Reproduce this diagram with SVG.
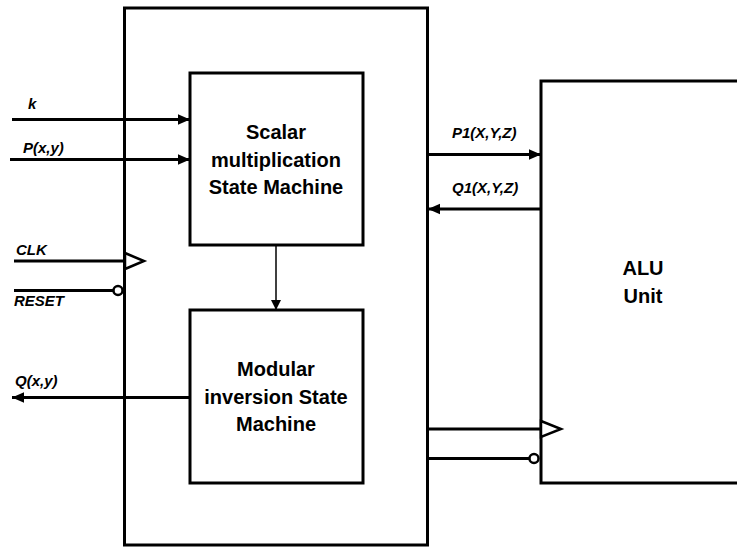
<svg xmlns="http://www.w3.org/2000/svg" width="737" height="547" viewBox="0 0 737 547">
<defs>
<marker id="ah" markerWidth="10" markerHeight="10" refX="10" refY="5" orient="auto" markerUnits="userSpaceOnUse">
<path d="M0,0 L10,5 L0,10 Z" fill="#000"/>
</marker>
<marker id="ahs" markerWidth="12" markerHeight="12" refX="14" refY="6" orient="auto" markerUnits="userSpaceOnUse" viewBox="0 0 14 12">
<path d="M0,0 L14,6 L0,12 Z" fill="#000"/>
</marker>
<style>
.box{fill:#fff;stroke:#000;stroke-width:3}
.ln{stroke:#000;stroke-width:3;fill:none}
.thin{stroke:#000;stroke-width:1.5;fill:none}
.t{font-family:"Liberation Sans",Arial,sans-serif;font-weight:bold;font-size:20px;text-anchor:middle;fill:#000}
.lb{font-family:"Liberation Sans",Arial,sans-serif;font-weight:bold;font-style:italic;font-size:15px;fill:#000}
.clk{fill:#fff;stroke:#000;stroke-width:2.5}
.bub{fill:#fff;stroke:#000;stroke-width:2.5}
</style>
</defs>
<rect width="737" height="547" fill="#fff"/>
<g id="outer"><rect class="box" x="124.5" y="8" width="303" height="537"/></g>
<g id="alu"><rect class="box" x="541" y="81" width="210" height="402"/>
<text class="t" x="643" y="275">ALU</text><text class="t" x="643" y="303">Unit</text></g>
<g id="connectors">
<line class="ln" x1="12" y1="119.5" x2="190" y2="119.5" marker-end="url(#ahs)"/>
<line class="ln" x1="10" y1="159.5" x2="190" y2="159.5" marker-end="url(#ahs)"/>
<line class="ln" x1="14" y1="261" x2="124.5" y2="261"/>
<polygon class="clk" points="125,253 144,261 125,269"/>
<line class="ln" x1="14" y1="290.5" x2="113" y2="290.5"/>
<circle class="bub" cx="118" cy="290.5" r="4.5"/>
<line class="ln" x1="190" y1="397.5" x2="12" y2="397.5" marker-end="url(#ahs)"/>
<line class="thin" x1="276" y1="245" x2="276" y2="310" marker-end="url(#ah)"/>
<line class="ln" x1="428" y1="154.5" x2="541" y2="154.5" marker-end="url(#ahs)"/>
<line class="ln" x1="541" y1="209" x2="428" y2="209" marker-end="url(#ahs)"/>
<line class="ln" x1="428" y1="429" x2="541" y2="429"/>
<polygon class="clk" points="541,421 561,429 541,437"/>
<line class="ln" x1="428" y1="458.5" x2="529" y2="458.5"/>
<circle class="bub" cx="534" cy="458.5" r="4.5"/>
</g>
<g id="scalar"><rect class="box" x="190" y="73" width="173" height="172"/>
<text class="t" x="276" y="139">Scalar</text>
<text class="t" x="276" y="167">multiplication</text>
<text class="t" x="276" y="194">State Machine</text></g>
<g id="modular"><rect class="box" x="190" y="310" width="173" height="173"/>
<text class="t" x="276" y="376">Modular</text>
<text class="t" x="276" y="404">inversion State</text>
<text class="t" x="276" y="431">Machine</text></g>
<g id="labels">
<text class="lb" x="28" y="109">k</text>
<text class="lb" x="23" y="153">P(x,y)</text>
<text class="lb" x="16" y="255">CLK</text>
<text class="lb" x="14" y="306">RESET</text>
<text class="lb" x="15" y="386">Q(x,y)</text>
<text class="lb" x="452" y="138">P1(X,Y,Z)</text>
<text class="lb" x="452" y="193">Q1(X,Y,Z)</text>
</g>
</svg>
